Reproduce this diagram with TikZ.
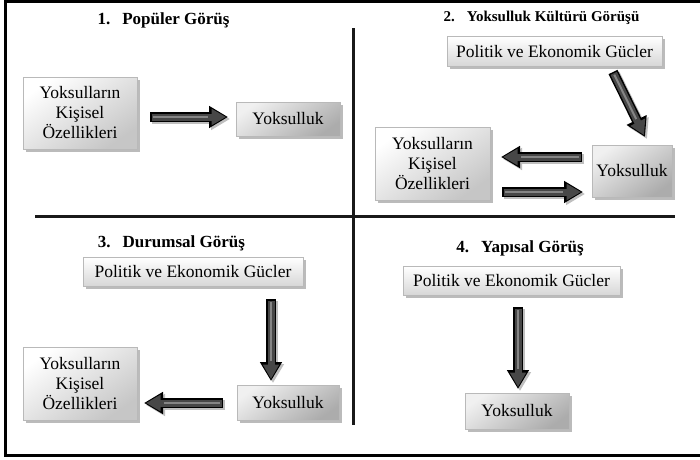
\documentclass[tikz,border=0pt]{standalone}
\usepackage{fontspec}
\setmainfont{Liberation Serif}
\usetikzlibrary{arrows.meta,shadows}
\begin{document}
\begin{tikzpicture}[x=1pt,y=-1pt,
  frameline/.style={line width=3pt,black},
  divider/.style={line width=3pt,black!90},
  title/.style={font=\fontsize{17}{20}\selectfont\bfseries, inner sep=0pt},
  boxbase/.style={draw=gray!55, line width=0.6pt, align=center, inner sep=0pt,
    font=\fontsize{17.5}{20}\selectfont,
    drop shadow={shadow xshift=2.5pt, shadow yshift=-2.5pt, fill=gray!75, opacity=0.7}},
  kbox/.style={boxbase, top color=white, bottom color=gray!45, shading angle=35},
  ybox/.style={boxbase, top color=gray!12, bottom color=gray!65, shading angle=35},
  pbox/.style={boxbase, top color=white, bottom color=gray!32},
  barrow/.style={draw=black, line width=10pt, -{Triangle[width=21pt,length=19pt]},
    preaction={draw=black!25, line width=10pt, -{Triangle[width=21pt,length=19pt]},
      transform canvas={xshift=2pt,yshift=-2pt}},
    postaction={draw=black!72, line width=7pt, -{Triangle[width=15.5pt,length=14.5pt]},
      shorten >=2pt, shorten <=1.5pt},
    postaction={draw=black!48, line width=2pt, -, shorten >=20pt, shorten <=3pt}}
]
\useasboundingbox (0,0) rectangle (700,459);
\fill[white] (0,0) rectangle (700,459);
% outer frame
\draw[frameline] (710,1.5) -- (5,1.5) -- (5,455) -- (710,455);
% dividers
\draw[divider] (35,216) -- (675,216);
\draw[divider] (353,28) -- (353,425);

% titles
\node[title] (T1) at (163.5,20) {1.\hspace{12pt}Popüler Görüş};
\node[title, font=\fontsize{15}{18}\selectfont\bfseries] (T2) at (541.5,18) {2.\hspace{12pt}Yoksulluk Kültürü Görüşü};
\node[title] (T3) at (171.5,243) {3.\hspace{12pt}Durumsal Görüş};
\node[title] (T4) at (520,248) {4.\hspace{12pt}Yapısal Görüş};

% panel 1
\node[kbox, minimum width=114pt, minimum height=72pt] (K1) at (80,113) {Yoksulların\\Kişisel\\Özellikleri};
\node[ybox, minimum width=104pt, minimum height=34pt] (Y1) at (288,119) {Yoksulluk};
\coordinate (a1s) at (150,117);
\coordinate (a1e) at (228,117);
\draw[barrow] (a1s) -- (a1e);

% panel 2
\node[pbox, minimum width=215pt, minimum height=30pt] (P2) at (554.5,51.5) {Politik ve Ekonomik Gücler};
\node[kbox, minimum width=115pt, minimum height=73pt] (K2) at (432.5,163.5) {Yoksulların\\Kişisel\\Özellikleri};
\node[ybox, minimum width=80pt, minimum height=52pt] (Y2) at (632,171) {Yoksulluk};
\coordinate (a2s) at (613,72);
\coordinate (a2e) at (645,137);
\draw[barrow] (a2s) -- (a2e);
\coordinate (a3s) at (582,157);
\coordinate (a3e) at (501,157);
\draw[barrow] (a3s) -- (a3e);
\coordinate (a4s) at (502,192);
\coordinate (a4e) at (583,192);
\draw[barrow] (a4s) -- (a4e);

% panel 3
\node[pbox, minimum width=220pt, minimum height=29pt] (P3) at (193,272) {Politik ve Ekonomik Gücler};
\node[kbox, minimum width=114pt, minimum height=73pt] (K3) at (80,383.5) {Yoksulların\\Kişisel\\Özellikleri};
\node[ybox, minimum width=102pt, minimum height=35pt] (Y3) at (288,402.5) {Yoksulluk};
\coordinate (a5s) at (271,299);
\coordinate (a5e) at (271,381);
\draw[barrow] (a5s) -- (a5e);
\coordinate (a6s) at (223,403);
\coordinate (a6e) at (144,403);
\draw[barrow] (a6s) -- (a6e);

% panel 4
\node[pbox, minimum width=217pt, minimum height=29pt] (P4) at (511.5,281) {Politik ve Ekonomik Gücler};
\node[ybox, minimum width=104pt, minimum height=36pt] (Y4) at (517,411) {Yoksulluk};
\coordinate (a7s) at (518,307);
\coordinate (a7e) at (518,389);
\draw[barrow] (a7s) -- (a7e);
\end{tikzpicture}
\end{document}
